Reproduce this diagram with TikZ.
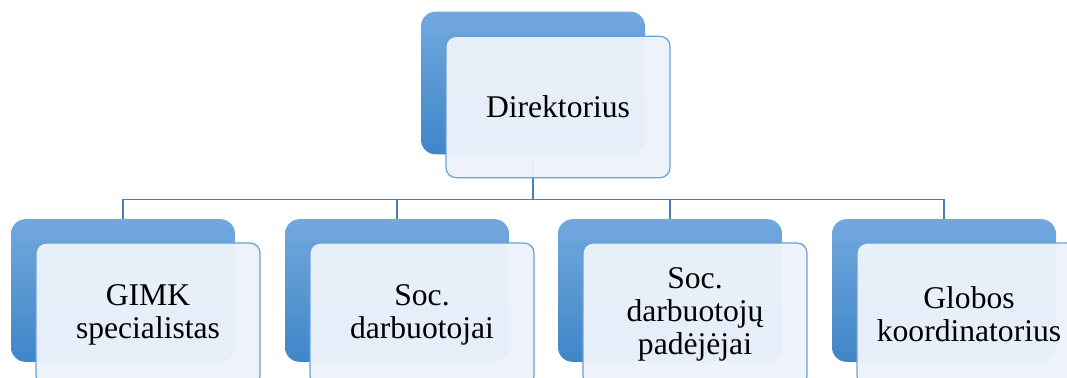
\documentclass[tikz,border=0pt]{standalone}
\usepackage{fontspec}
\setmainfont{Liberation Serif}
\newfontfamily\boxfont{Liberation Serif}
\usetikzlibrary{positioning}
\definecolor{backtop}{HTML}{72A8DE}
\definecolor{backbot}{HTML}{3F86C7}
\definecolor{frontfill}{HTML}{EDF3FB}
\definecolor{frontline}{HTML}{6A9FD8}
\definecolor{linkcol}{HTML}{4A7EBB}
\tikzset{
  backbox/.style={rounded corners=11pt, minimum width=168pt, minimum height=107pt,
    inner sep=0pt, top color=backtop, bottom color=backbot, draw=none},
  frontbox/.style={rounded corners=7.5pt, minimum width=168pt, minimum height=106pt,
    inner sep=0pt, fill=frontfill, fill opacity=0.96, text opacity=1, draw=frontline,
    line width=0.9pt, align=center, font=\boxfont\fontsize{23.7}{24.8}\selectfont},
  link/.style={draw=linkcol, line width=1.1pt}
}
\begin{document}
\begin{tikzpicture}[x=0.75pt,y=-0.75pt]
    \useasboundingbox (0,0) rectangle (1067,378);
    \clip (0,0) rectangle (1067,378);
    % back boxes
    \node[backbox] (dirb) at (533,83) {};
    \node[backbox] (gimkb) at (123,290.5) {};
    \node[backbox] (socb) at (397,290.5) {};
    \node[backbox] (padb) at (670,290.5) {};
    \node[backbox] (globb) at (944,290.5) {};
    % connectors
    \draw[link] (dirb.south) -- ++(0,45) coordinate (bus) -| (gimkb.north);
    \draw[link] (bus) -| (socb.north);
    \draw[link] (bus) -| (padb.north);
    \draw[link] (bus) -| (globb.north);
    % front boxes with the texts
    \node[frontbox, minimum height=106pt] (dir) at ([xshift=18.75pt,yshift=-18pt]dirb.center) {Direktorius};
    \node[frontbox, minimum height=107.25pt] (gimk) at ([xshift=18.75pt,yshift=-18pt]gimkb.center) {GIMK\\specialistas};
    \node[frontbox, minimum height=107.25pt] (soc) at ([xshift=18.75pt,yshift=-18pt]socb.center) {Soc.\\darbuotojai};
    \node[frontbox, minimum height=107.25pt] (pad) at ([xshift=18.75pt,yshift=-18pt]padb.center) {Soc.\\darbuotojų\\padėjėjai};
    \node[frontbox, minimum height=107.25pt] (glob) at ([xshift=18.75pt,yshift=-18pt]globb.center) {Globos\\koordinatorius};
\end{tikzpicture}
\end{document}
